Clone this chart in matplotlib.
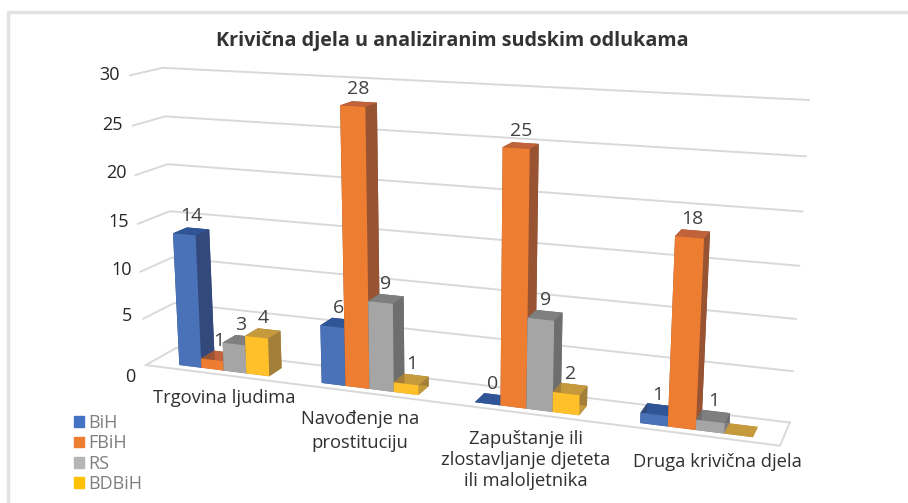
import numpy as np
import matplotlib
matplotlib.use('Agg')
import matplotlib.pyplot as plt
from matplotlib.lines import Line2D
from matplotlib.patches import Patch

categories = ['Trgovina ljudima', 'Navođenje na\nprostituciju',
              'Zapuštanje ili\nzlostavljanje djeteta\nili maloljetnika', 'Druga krivična djela']
series = ['BiH', 'FBiH', 'RS', 'BDBiH']
bih = [14, 6, 0, 1]
fbih = [1, 28, 25, 18]
rs = [3, 9, 9, 1]
bdbih = [4, 1, 2, 0]
show_label = [[True] * 4, [True] * 4, [True] * 4, [True, True, True, False]]
yticks = [0, 5, 10, 15, 20, 25, 30]

front = ['#4a72b8', '#ed7d31', '#a5a5a5', '#ffc02a']
top = ['#2f5597', '#c0623a', '#7f7f7f', '#c49a3c']
side = ['#33497c', '#975332', '#6e6e6e', '#a37f3a']
legend_cols = ['#4472c4', '#ed7d31', '#b5b5b5', '#ffc000']

W, H = 908, 503
plt.rcParams['font.family'] = ['Open Sans', 'DejaVu Sans']

# camera: where some corners of the chart box land in the picture (x, depth, value -> px)
box = [(0, 0, 30), (0, 1, 30), (0, 0, 15), (0, 1, 15), (0, 0, 0), (0, 1, 0),
       (4, 1, 30), (4, 1, 15), (4, 1, 0), (4, 0, 0)]
px = [(129, 76), (164, 67), (138, 223), (170, 212), (147, 364), (175, 349),
      (809, 100), (799, 266), (790, 421), (780, 447)]


def fit_camera():
  a, b = [], []
  for (x, y, z), (u, v) in zip(box, px):
    a.append([x, y, z, 1, 0, 0, 0, 0, -u * x, -u * y, -u * z])
    a.append([0, 0, 0, 0, x, y, z, 1, -v * x, -v * y, -v * z])
    b += [u, v]
  p = np.linalg.lstsq(np.array(a, float), np.array(b, float), rcond=None)[0]
  return np.append(p, 1.0).reshape(3, 4)


P = fit_camera()


def to_px(x, y, z):
  u, v, w = P @ np.array([x, y, z, 1.0])
  return u / w, v / w


fig = plt.figure(figsize=(W / 100, H / 100), dpi=100)
ax = fig.add_axes([0, 0, 1, 1], projection='3d', computed_zorder=False)
ax.set_proj_type('ortho')
ax.set_axis_off()
ax.patch.set_alpha(0)
# keep the axes on the whole figure, the camera does the shape
ax.apply_aspect = lambda position=None: None


def get_proj():
  # picture pixels -> the 2d coordinates of the 3d axes
  flip = np.array([[1, 0, 0], [0, -1, H], [0, 0, 1]], float)
  m = ax.transData.inverted().get_matrix() @ flip @ P
  depth = [-0.01, 1, -0.001, 0]
  return np.array([m[0], m[1], depth, m[2]])


ax.get_proj = get_proj

grid = '#d9d9d9'
for t in yticks:
  ax.plot([0, 0, 4], [0, 1, 1], [t, t, t], color=grid, lw=1.4, zorder=1)
ax.plot([0, 4, 4], [0, 0, 1], [0, 0, 0], color=grid, lw=1.4, zorder=1)

values = [bih, fbih, rs, bdbih]
bar_w = 0.16
bar_y = 0.2
bar_d = 0.45
order = 2
for c in range(len(categories)):
  for s in range(len(series)):
    x0 = c + 0.2 + s * bar_w
    v = values[s][c]
    # faces: bottom, top, front, back, left, right
    cols = [top[s], top[s], front[s], side[s], side[s], side[s]]
    ax.bar3d(x0, bar_y, 0, bar_w, bar_d, v, color=cols, shade=False, zorder=order,
             edgecolor='none', linewidth=0)
    order += 1
    if show_label[c][s]:
      u, w = to_px(x0 + bar_w / 2, bar_y + bar_d * 0.5, v)
      fig.text(u / W, 1 - (w - 6) / H, str(v), ha='center', va='bottom',
               color='#404040', fontsize=14, zorder=100)

ytick_px = [(130, 377), (127, 316), (122, 270), (119, 222), (116, 173), (112, 125), (109, 75)]
for t, (u, v) in zip(yticks, ytick_px):
  fig.text(u / W, 1 - v / H, str(t), ha='center', va='center', fontsize=13, color='#262626')

cat_px = [(224, 398), (360, 431), (526, 460), (717, 462)]
cat_spacing = [1.1, 1.45, 1.2, 1.1]
for name, (u, v), sp in zip(categories, cat_px, cat_spacing):
  fig.text(u / W, 1 - v / H, name, ha='center', va='center', fontsize=13.2, color='#303030',
           linespacing=sp)

fig.text(452 / W, 1 - 41 / H, 'Krivična djela u analiziranim sudskim odlukama', ha='center',
         va='center', fontsize=14.2, fontweight='bold', color='#333333')

handles = [Patch(color=c, label=s) for c, s in zip(legend_cols, series)]
fig.legend(handles=handles, loc='upper left', bbox_to_anchor=(74 / W, 1 - 414 / H), frameon=False,
           fontsize=13, labelcolor='#7f7f7f', handlelength=0.55, handleheight=0.55, handletextpad=0.25,
           labelspacing=0.13, borderpad=0, borderaxespad=0)

fig.add_artist(Line2D([8 / W, 8 / W, 1], [0, 1 - 12 / H, 1 - 12 / H], color='#e2e2e2', lw=2.5))

fig.savefig('out.png', dpi=100)
